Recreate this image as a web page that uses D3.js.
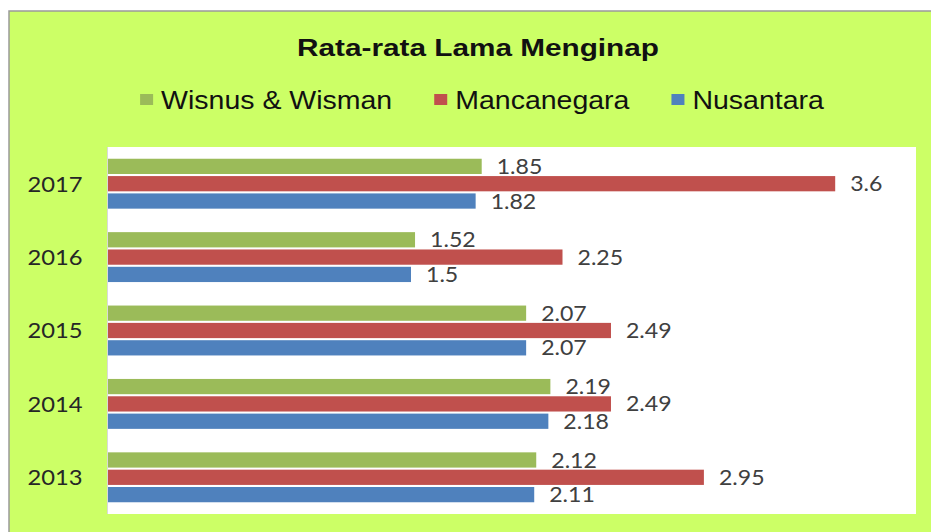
<!DOCTYPE html>
<html>
<head>
<meta charset="utf-8">
<script src="https://cdn.jsdelivr.net/npm/d3@7"></script>
<style>
  body { margin: 0; background: #fff; }
  svg { display: block; }
</style>
</head>
<body>
<svg width="931" height="532"></svg>
<script>
// data
var years = ["2017", "2016", "2015", "2014", "2013"];
var seriesNames = ["Wisnus & Wisman", "Mancanegara", "Nusantara"];
var wisnusWisman = [1.85, 1.52, 2.07, 2.19, 2.12];
var mancanegara = [3.6, 2.25, 2.49, 2.49, 2.95];
var nusantara = [1.82, 1.5, 2.07, 2.18, 2.11];
var seriesColors = ["#9BBB59", "#C0504D", "#4F81BD"];

var svg = d3.select("svg");

// chart frame (green area)
svg.append("rect")
    .attr("x", 9).attr("y", 11)
    .attr("width", 922).attr("height", 521)
    .attr("fill", "#CCFF66");
svg.append("path")
    .attr("d", "M9,532V11H931")
    .attr("fill", "none")
    .attr("stroke", "#9a9a9a")
    .attr("stroke-width", 1.5);

var plot = { left: 108, right: 916, top: 147, bottom: 514 };

svg.append("rect")
    .attr("x", plot.left).attr("y", plot.top)
    .attr("width", plot.right - plot.left)
    .attr("height", plot.bottom - plot.top)
    .attr("fill", "#fff");
svg.append("line")
    .attr("x1", plot.left - 0.5).attr("x2", plot.left - 0.5)
    .attr("y1", plot.top).attr("y2", plot.bottom)
    .attr("stroke", "#d9d9d9");

var x = d3.scaleLinear().domain([0, 4]).range([plot.left, plot.right]);

var y0 = d3.scaleBand()
    .domain(years)
    .range([plot.top, plot.bottom])
    .paddingInner(0.32)
    .paddingOuter(0.16);

var y1 = d3.scaleBand()
    .domain(seriesNames)
    .range([0, y0.bandwidth()])
    .paddingInner(0.12);

var color = d3.scaleOrdinal().domain(seriesNames).range(seriesColors);

var rows = years.map(function (yr, i) {
    return {
        year: yr,
        values: [wisnusWisman[i], mancanegara[i], nusantara[i]].map(function (v, k) {
            return { series: seriesNames[k], value: v };
        })
    };
});

// stretched text helper (source picture is widened)
function stretched(sel, sx) {
    return sel.attr("transform", function () {
        var t = d3.select(this);
        return "translate(" + t.attr("data-x") + "," + t.attr("data-y") + ") scale(" + sx + ",1)";
    });
}

var groups = svg.append("g").selectAll("g")
    .data(rows).enter()
    .append("g")
    .attr("transform", function (d) { return "translate(0," + y0(d.year) + ")"; });

groups.selectAll("rect")
    .data(function (d) { return d.values; }).enter()
    .append("rect")
    .attr("x", x(0))
    .attr("y", function (d) { return y1(d.series); })
    .attr("width", function (d) { return x(d.value) - x(0); })
    .attr("height", y1.bandwidth())
    .attr("fill", function (d) { return color(d.series); });

groups.selectAll("text.val")
    .data(function (d) { return d.values; }).enter()
    .append("text")
    .attr("class", "val")
    .attr("data-x", function (d) { return x(d.value) + 15; })
    .attr("data-y", function (d) { return y1(d.series) + y1.bandwidth() / 2; })
    .attr("dy", "0.36em")
    .attr("font-family", "Lato, 'Open Sans', sans-serif")
    .attr("font-size", 21)
    .attr("fill", "#404040")
    .text(function (d) { return String(d.value); })
    .call(stretched, 1.1);

// year labels
svg.append("g").selectAll("text")
    .data(years).enter()
    .append("text")
    .attr("data-x", 55)
    .attr("data-y", function (d) { return y0(d) + y0.bandwidth() / 2; })
    .attr("dy", "0.36em")
    .attr("text-anchor", "middle")
    .attr("font-family", "Lato, 'Open Sans', sans-serif")
    .attr("font-size", 22)
    .attr("fill", "#262626")
    .text(function (d) { return d; })
    .call(stretched, 1.08);

// title
svg.append("text")
    .attr("data-x", 478)
    .attr("data-y", 56)
    .attr("text-anchor", "middle")
    .attr("font-family", "'Liberation Sans', Arial, sans-serif")
    .attr("font-weight", "bold")
    .attr("font-size", 24)
    .attr("fill", "#111")
    .text("Rata-rata Lama Menginap")
    .call(stretched, 1.24);

// legend
var legend = svg.append("g");
var sx = 1.14, sq = 12, textGap = 8, itemGap = 42;
var items = legend.selectAll("g")
    .data(seriesNames).enter()
    .append("g");
items.append("rect")
    .attr("width", sq + 1).attr("height", sq - 1)
    .attr("y", -sq + 1)
    .attr("fill", function (d) { return color(d); });
items.append("text")
    .attr("data-x", sq + 1 + textGap)
    .attr("data-y", 4)
    .attr("font-family", "'Liberation Sans', Arial, sans-serif")
    .attr("font-size", 25)
    .attr("fill", "#111")
    .text(function (d) { return d; })
    .call(stretched, sx);

var widths = [];
items.each(function () {
    widths.push(sq + 1 + textGap + d3.select(this).select("text").node().getComputedTextLength() * sx);
});
var total = d3.sum(widths) + itemGap * (widths.length - 1);
var cursor = 482 - total / 2;
items.attr("transform", function (d, i) {
    var pos = cursor;
    cursor += widths[i] + itemGap;
    return "translate(" + pos + ",105)";
});
</script>
</body>
</html>
